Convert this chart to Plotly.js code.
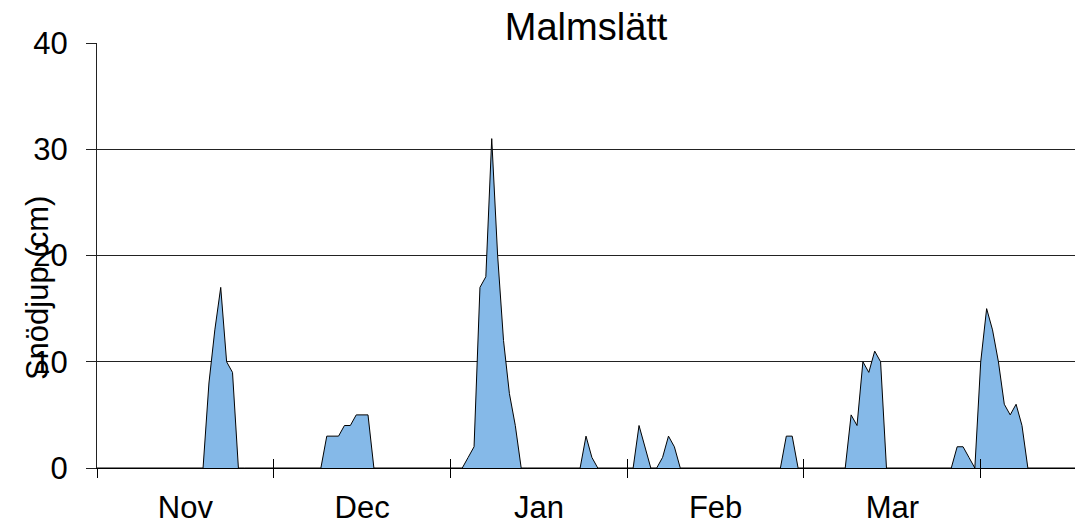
<!DOCTYPE html>
<html>
<head>
<meta charset="utf-8">
<script src="https://cdn.plot.ly/plotly-3.0.1.min.js"></script>
<style>html,body{margin:0;padding:0;background:#fff;}#chart{width:1084px;height:526px;}</style>
</head>
<body>
<div id="chart"></div>
<script>
// Snow depth (cm), one value per day, starting at the first day of November
const snowDepth = [
  0,0,0,0,0,0,0,0,0,0, 0,0,0,0,0,0,0,0,0,8, 13,17,10,9,0,0,0,0,0,0,
  0,0,0,0,0,0,0,0,0,3, 3,3,4,4,5,5,5,0,0,0, 0,0,0,0,0,0,0,0,0,0,
  0,0,0,1,2,17,18,31,20,12, 7,4,0,0,0,0,0,0,0,0, 0,0,0,3,1,0,0,0,0,0,
  0,0,4,2,0,0,1,3,2,0, 0,0,0,0,0,0,0,0,0,0, 0,0,0,0,0,0,0,3,3,0,
  0,0,0,0,0,0,0,0,5,4, 10,9,11,10,0,0,0,0,0,0, 0,0,0,0,0,0,2,2,1,0,
  10,15,13,10,6,5,6,4,0,0, 0,0,0,0,0,0,0
];
const months = ['Nov', 'Dec', 'Jan', 'Feb', 'Mar'];
const daysPerTick = 30;
const titleText = 'Malmslätt';
const yTitleText = 'Snödjup (cm)';

const lastDay = snowDepth.length - 1;
const tickBounds = [];
for (let k = 0; k * daysPerTick <= lastDay; k++) tickBounds.push(k * daysPerTick);
const labelPos = months.map((m, k) => k * daysPerTick + daysPerTick / 2);

const font = {family: 'Liberation Sans, Arial, sans-serif', color: '#000'};

const trace = {
  type: 'scatter',
  mode: 'lines',
  y: snowDepth,
  x0: 0, dx: 1,
  fill: 'tozeroy',
  fillcolor: '#85B9E8',
  line: {color: '#000', width: 1},
  hoverinfo: 'skip'
};
// empty carrier traces so the tick-mark overlay axes get drawn
const tickCarrierOut = {type: 'scatter', mode: 'lines', x: [], y: [], xaxis: 'x2', yaxis: 'y', showlegend: false, hoverinfo: 'skip'};
const tickCarrierIn = {type: 'scatter', mode: 'lines', x: [], y: [], xaxis: 'x3', yaxis: 'y', showlegend: false, hoverinfo: 'skip'};

const layout = {
  width: 1084, height: 526,
  margin: {l: 97, r: 9, t: 43, b: 58},
  paper_bgcolor: '#fff', plot_bgcolor: '#fff',
  showlegend: false,
  title: {text: titleText, font: Object.assign({size: 38}, font), x: 0.5407, xanchor: 'center', xref: 'container', yref: 'container', y: 0.949, yanchor: 'middle'},
  xaxis: {
    range: [0, lastDay], tickmode: 'array', tickvals: labelPos, ticktext: months,
    ticks: '', showgrid: false, zeroline: false, showline: true, linecolor: '#000', linewidth: 1,
    tickfont: Object.assign({size: 31}, font), ticklabelstandoff: 12, fixedrange: true
  },
  xaxis2: {
    overlaying: 'x', anchor: 'y', side: 'bottom', range: [0, lastDay], tickmode: 'array', tickvals: tickBounds,
    ticks: 'outside', ticklen: 9, tickcolor: '#000', tickwidth: 1, showticklabels: false,
    showgrid: false, zeroline: false, showline: false, fixedrange: true
  },
  xaxis3: {
    overlaying: 'x', anchor: 'y', side: 'bottom', range: [0, lastDay], tickmode: 'array', tickvals: tickBounds.slice(1),
    ticks: 'inside', ticklen: 9, tickcolor: '#000', tickwidth: 1, showticklabels: false,
    showgrid: false, zeroline: false, showline: false, fixedrange: true
  },
  yaxis: {
    range: [0, 40], dtick: 10, tick0: 0, ticks: 'outside', ticklen: 10, tickcolor: '#222', tickwidth: 1,
    showgrid: true, gridcolor: '#222', gridwidth: 1, zeroline: false,
    showline: true, linecolor: '#222', linewidth: 1,
    tickfont: Object.assign({size: 31}, font), ticklabelstandoff: 12, fixedrange: true
  },
  annotations: [{
    text: yTitleText, textangle: -90, xref: 'paper', yref: 'paper',
    x: -0.0613, y: 0.4235, xanchor: 'center', yanchor: 'middle', showarrow: false,
    font: Object.assign({size: 31}, font)
  }]
};

Plotly.newPlot('chart', [trace, tickCarrierOut, tickCarrierIn], layout, {displayModeBar: false, staticPlot: true});
</script>
</body>
</html>
